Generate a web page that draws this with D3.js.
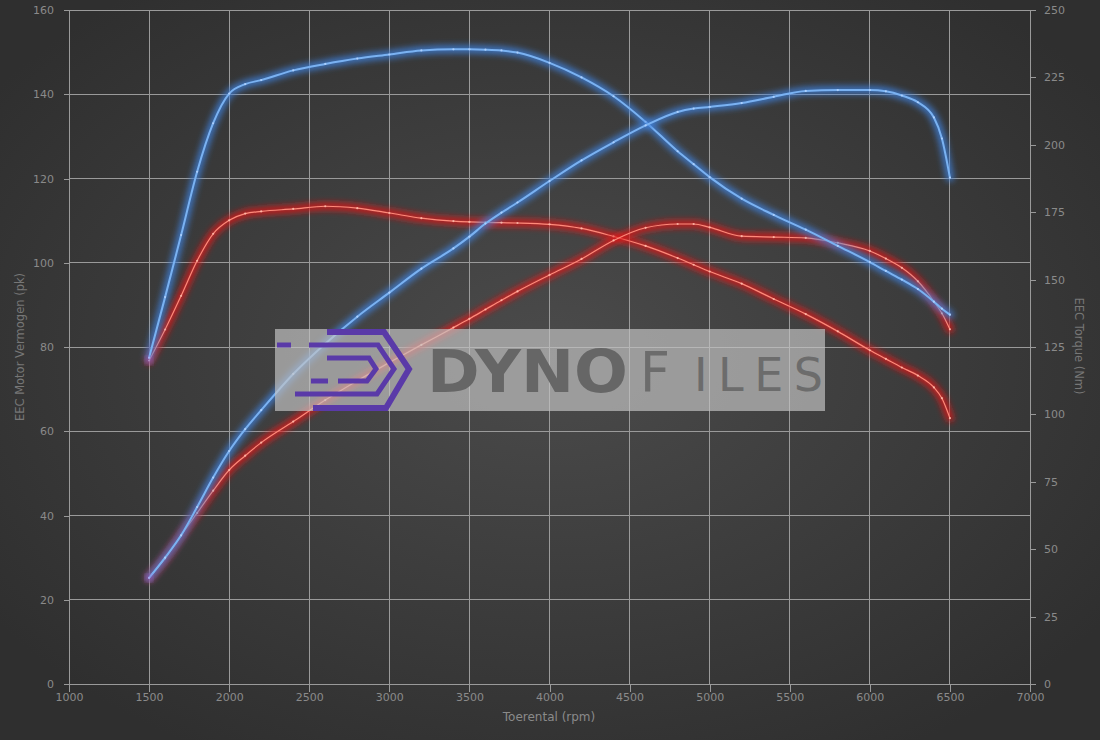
<!DOCTYPE html>
<html>
<head>
<meta charset="utf-8">
<script src="https://cdn.jsdelivr.net/npm/d3@7"></script>
<style>
  html, body { margin: 0; padding: 0; background: #333; }
  svg { display: block; }
  text { font-family: "DejaVu Sans", sans-serif; }
</style>
</head>
<body>
<svg id="chart" width="1100" height="740"></svg>
<script>
// Engine speed (rpm) at every measured point
const rpm = [1500, 1600, 1700, 1800, 1900, 2000, 2100, 2200, 2400, 2600, 2800, 3000, 3200, 3400, 3500, 3600, 3700, 3800,
             4000, 4200, 4400, 4600, 4800, 4900, 5000, 5200, 5400, 5600, 5800, 6000, 6100, 6200, 6300, 6400, 6450, 6500];

// Power (pk) – tuned (blue) and stock (red)
const powerTuned = [25.2, 30.0, 35.3, 42.0, 49.0, 55.3, 60.5, 65.0, 73.6, 80.8, 87.2, 92.9, 98.6, 103.4, 106.2, 109.3, 111.9, 114.3,
                    119.4, 124.3, 128.6, 132.6, 135.8, 136.6, 137.0, 137.9, 139.4, 140.8, 141.0, 141.0, 140.7, 139.7, 138.1, 134.5, 129.5, 120.2];
const powerStock = [25.2, 29.8, 35.3, 40.6, 45.9, 50.8, 54.2, 57.3, 62.3, 67.4, 72.0, 76.3, 80.5, 84.6, 86.7, 88.9, 91.1, 93.2,
                    97.1, 100.9, 105.3, 108.3, 109.2, 109.2, 108.4, 106.3, 106.1, 105.9, 104.7, 102.8, 101.0, 98.8, 95.6, 90.8, 88.0, 84.2];

// Torque (Nm) – tuned (blue) and stock (red)
const torqueTuned = [121.0, 143.5, 166.5, 190.0, 208.0, 219.0, 222.5, 224.0, 227.6, 230.0, 232.0, 233.5, 235.0, 235.4, 235.4, 235.3, 235.0, 234.2,
                     230.4, 225.0, 218.0, 208.5, 197.6, 192.8, 188.0, 180.0, 174.0, 168.5, 162.5, 156.5, 153.2, 150.0, 146.5, 141.8, 139.2, 137.0];
const torqueStock = [120.0, 131.5, 144.0, 157.0, 167.0, 172.0, 174.5, 175.3, 176.2, 177.2, 176.5, 174.7, 172.8, 171.7, 171.4, 171.2, 171.1, 171.0,
                     170.5, 169.0, 166.0, 162.5, 158.0, 155.5, 153.0, 148.5, 142.8, 137.2, 130.8, 123.8, 120.6, 117.4, 114.4, 110.0, 106.0, 98.6];

// Axis ticks
const rpmTicks = d3.range(1000, 7001, 500);
const pkTicks = d3.range(0, 161, 20);
const nmTicks = d3.range(0, 251, 25);

const W = 1100, H = 740;
const svg = d3.select("#chart");
const defs = svg.append("defs");

// Background: dark radial vignette
const bg = defs.append("radialGradient").attr("id", "bg")
  .attr("cx", "50%").attr("cy", "48%").attr("r", "62%");
bg.append("stop").attr("offset", "0%").attr("stop-color", "#4b4b4b");
bg.append("stop").attr("offset", "100%").attr("stop-color", "#2f2f2f");
svg.append("rect").attr("width", W).attr("height", H).attr("fill", "url(#bg)");

// Soft glow for the curves
const glow = defs.append("filter").attr("id", "glow")
  .attr("x", "-10%").attr("y", "-10%").attr("width", "120%").attr("height", "120%");
glow.append("feGaussianBlur").attr("stdDeviation", 3);

const x = d3.scaleLinear().domain([1000, 7000]).range([69, 1030]);
const yL = d3.scaleLinear().domain([0, 160]).range([684, 10]);
const yR = d3.scaleLinear().domain([0, 250]).range([684, 10]);

const gridColor = "#9a9a9a";
const labelColor = "#8a8a8a";
const fmt = d3.format("d");

// Grid
const grid = svg.append("g");
grid.selectAll("line.v").data(rpmTicks).join("line")
  .attr("x1", d => x(d)).attr("x2", d => x(d))
  .attr("y1", yL(160)).attr("y2", yL(0))
  .attr("stroke", gridColor).attr("stroke-width", 1).attr("shape-rendering", "crispEdges");
grid.selectAll("line.h").data(pkTicks).join("line")
  .attr("x1", x(1000)).attr("x2", x(7000))
  .attr("y1", d => yL(d)).attr("y2", d => yL(d))
  .attr("stroke", gridColor).attr("stroke-width", 1).attr("shape-rendering", "crispEdges");

function styleAxis(g) {
  g.select(".domain").remove();
  g.selectAll(".tick line").attr("stroke", gridColor).attr("shape-rendering", "crispEdges");
  g.selectAll(".tick text").attr("fill", labelColor).attr("font-size", 11)
    .attr("font-family", "DejaVu Sans, sans-serif");
}

svg.append("g").attr("transform", `translate(${x(1000)},0)`)
  .call(d3.axisLeft(yL).tickValues(pkTicks).tickFormat(fmt).tickSize(5).tickPadding(10))
  .call(styleAxis);

svg.append("g").attr("transform", `translate(0,${yL(0)})`)
  .call(d3.axisBottom(x).tickValues(rpmTicks).tickFormat(fmt).tickSize(8).tickPadding(1))
  .call(styleAxis);

const right = svg.append("g").attr("transform", `translate(${x(7000)},0)`)
  .call(d3.axisRight(yR).tickValues(nmTicks).tickFormat(fmt).tickSize(6).tickPadding(8))
  .call(styleAxis);
right.append("line").attr("x1", 0).attr("x2", 0).attr("y1", yR(250)).attr("y2", yR(0))
  .attr("stroke", gridColor).attr("shape-rendering", "crispEdges");

// Axis titles
svg.append("text").attr("x", 549).attr("y", 721).attr("text-anchor", "middle")
  .attr("fill", labelColor).attr("font-size", 12).text("Toerental (rpm)");
svg.append("text").attr("transform", "translate(24,347) rotate(-90)").attr("text-anchor", "middle")
  .attr("fill", "#777").attr("font-size", 11.5).text("EEC Motor Vermogen (pk)");
svg.append("text").attr("transform", "translate(1075,346) rotate(90)").attr("text-anchor", "middle")
  .attr("fill", "#777").attr("font-size", 11.5).text("EEC Torque (Nm)");

// Curves
const series = [
  { values: torqueStock, y: yR, glow: "#e3191c", core: "#ff8a7a", coreW: 1.2, dot: "#ffc0b0" },
  { values: powerStock, y: yL, glow: "#e3191c", core: "#ff8a7a", coreW: 1.2, dot: "#ffc0b0" },
  { values: torqueTuned, y: yR, glow: "#3e82e0", core: "#7ab2f2", coreW: 2.0, dot: "#b8d6ff" },
  { values: powerTuned, y: yL, glow: "#3e82e0", core: "#7ab2f2", coreW: 2.0, dot: "#b8d6ff" }
];

const curves = svg.append("g");
series.forEach(s => {
  const pts = rpm.map((r, i) => [r, s.values[i]]);
  const line = d3.line().x(d => x(d[0])).y(d => s.y(d[1])).curve(d3.curveMonotoneX);
  const g = curves.append("g");
  g.append("path").attr("d", line(pts)).attr("fill", "none")
    .attr("stroke", s.glow).attr("stroke-width", 8).attr("stroke-opacity", 0.8)
    .attr("stroke-linecap", "round").attr("filter", "url(#glow)");
  g.append("path").attr("d", line(pts)).attr("fill", "none")
    .attr("stroke", s.core).attr("stroke-width", s.coreW).attr("stroke-linecap", "round");
  g.selectAll("circle").data(pts).join("circle")
    .attr("cx", d => x(d[0])).attr("cy", d => s.y(d[1])).attr("r", 1.1)
    .attr("fill", s.dot).attr("fill-opacity", 0.8);
});

// Start point where both runs meet
curves.append("circle").attr("cx", x(1500)).attr("cy", yL(powerTuned[0])).attr("r", 4)
  .attr("fill", "#a060d0").attr("fill-opacity", 0.6).attr("filter", "url(#glow)");
curves.append("circle").attr("cx", x(1500)).attr("cy", yR(torqueStock[0])).attr("r", 4)
  .attr("fill", "#a060d0").attr("fill-opacity", 0.6).attr("filter", "url(#glow)");

// Watermark banner
const wm = svg.append("g");
wm.append("rect").attr("x", 275).attr("y", 329).attr("width", 550).attr("height", 82)
  .attr("fill", "#c4c4c4").attr("fill-opacity", 0.68);

const purple = "#5a3aa8";
const logo = wm.append("g").attr("fill", "none").attr("stroke", purple).attr("stroke-linejoin", "miter");
logo.append("polyline").attr("points", "327,332 384,332 409,369 386,408 313,408").attr("stroke-width", 6);
logo.append("polyline").attr("points", "309,345 378,345 394,369 377,394 295,394").attr("stroke-width", 5);
logo.append("line").attr("x1", 277).attr("x2", 291).attr("y1", 345).attr("y2", 345).attr("stroke-width", 5);
logo.append("polyline").attr("points", "327,358 369,358 376,369 367,381 338,381").attr("stroke-width", 5);
logo.append("line").attr("x1", 311).attr("x2", 328).attr("y1", 381).attr("y2", 381).attr("stroke-width", 5);

// Brand lettering: heavy "DYNO", lighter "FILES"
wm.append("text").attr("x", 427).attr("y", 392).attr("fill", "#666")
  .attr("font-size", 59).attr("font-weight", "bold")
  .attr("textLength", 201).attr("lengthAdjust", "spacingAndGlyphs").text("DYNO");
wm.append("text").attr("x", 640).attr("y", 391).attr("fill", "#6c6c6c")
  .attr("font-size", 55).attr("font-weight", "normal")
  .attr("textLength", 30).attr("lengthAdjust", "spacingAndGlyphs").text("F");
wm.append("text").attr("x", 694).attr("y", 391).attr("fill", "#6c6c6c")
  .attr("font-size", 46).attr("font-weight", "normal")
  .attr("textLength", 129).attr("lengthAdjust", "spacing").text("ILES");
</script>
</body>
</html>
